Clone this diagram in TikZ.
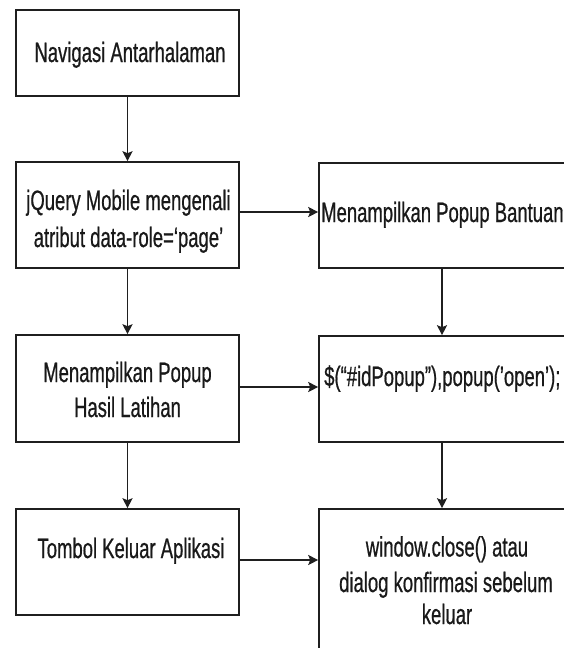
\documentclass[tikz,border=0pt]{standalone}
\usepackage{fontspec}
\setmainfont[FakeStretch=0.66,FakeBold=0.6]{Liberation Sans}
\usetikzlibrary{arrows.meta}
\begin{document}
\begin{tikzpicture}[x=1pt,y=-1pt,
  box/.style={draw=black!88, line width=1.6pt, inner sep=0pt},
  lbox/.style={box, minimum width=223pt},
  rbox/.style={box, minimum width=254pt},
  txt/.style={inner sep=0pt, text=black!90, font=\fontsize{28}{36}\selectfont},
  arr/.style={draw=black!88, line width=1.3pt, -{Stealth[length=10pt,width=10pt,inset=2pt]}}]
\useasboundingbox (0,0) rectangle (564,648);
\clip (0,0) rectangle (564,648);
\fill[white] (0,0) rectangle (564,648);
% boxes
\node[lbox, minimum height=86pt]  (b1) at (127.5,53) {};
\node[lbox, minimum height=106pt] (b2) at (127.5,215) {};
\node[lbox, minimum height=107pt] (b3) at (127.5,388.5) {};
\node[lbox, minimum height=106pt] (b4) at (127.5,562) {};
\node[rbox, minimum height=105pt] (r1) at (446,215.5) {};
\node[rbox, minimum height=106pt] (r2) at (446,389) {};
\node[rbox, minimum height=191pt] (r3) at (446,604.5) {};
% texts
\node[txt, anchor=base] (t1) at (130,62) {Navigasi Antarhalaman};
\node[txt, anchor=base] (t2a) at (128.5,210) {jQuery Mobile mengenali};
\node[txt, anchor=base] (t2b) at (128.5,247) {atribut data-role=‘page’};
\node[txt, anchor=base] (t3a) at (127.5,382) {Menampilkan Popup};
\node[txt, anchor=base] (t3b) at (127.5,417) {Hasil Latihan};
\node[txt, anchor=base] (t4) at (131,558) {Tombol Keluar Aplikasi};
\node[txt, anchor=base west] (t5) at (321,222) {Menampilkan Popup Bantuan};
\node[txt, anchor=base west] (t6) at (324,386) {\$(“\#idPopup”),popup(’open’);};
\node[txt, anchor=base] (t7a) at (447,556.5) {window.close() atau};
\node[txt, anchor=base] (t7b) at (446,592) {dialog konfirmasi sebelum};
\node[txt, anchor=base] (t7c) at (447,624) {keluar};
% connectors
\draw[arr] (b1.south) -- (b2.north);
\draw[arr] (b2.south) -- (b3.north);
\draw[arr] (b3.south) -- (b4.north);
\draw[arr] ([xshift=-4pt]r1.south) -- ([xshift=-4pt]r2.north);
\draw[arr] ([xshift=-4pt]r2.south) -- ([xshift=-4pt]r3.north);
\draw[arr] ([yshift=3pt]b2.east) -- ([yshift=3pt]b2.east -| r1.west);
\draw[arr] ([yshift=1.5pt]b3.east) -- ([yshift=1.5pt]b3.east -| r2.west);
\draw[arr] ([yshift=2pt]b4.east) -- ([yshift=2pt]b4.east -| r3.west);
\end{tikzpicture}
\end{document}
